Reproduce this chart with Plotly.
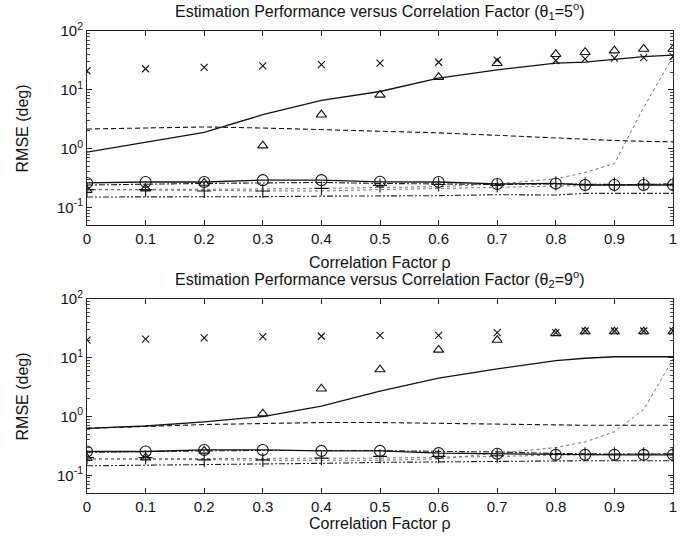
import plotly.graph_objects as go
import numpy as np

rho = [0, 0.1, 0.2, 0.3, 0.4, 0.5, 0.6, 0.7, 0.8, 0.85, 0.9, 0.95, 1.0]

# ---- top panel (theta1 = 5 deg)
t_x = [21, 22.8, 24, 25.6, 26.8, 28.3, 29.4, 32, 31.5, 33.5, 34.5, 35.2, 36.7]
t_tri = [0.196, 0.208, 0.26, 1.12, 3.77, 8.2, 16.4, 28.3, 40.3, 43.6, 46.4, 49.5, 49]
t_solid = [0.87, 1.3, 1.89, 3.77, 6.6, 9.35, 15.8, 21.8, 28.3, 29.5, 33, 36.7, 39]
t_dash = [2.15, 2.25, 2.33, 2.24, 2.1, 2.02, 1.85, 1.68, 1.51, 1.44, 1.37, 1.33, 1.3]
t_circ = [0.26, 0.27, 0.27, 0.29, 0.29, 0.272, 0.27, 0.25, 0.255, 0.24, 0.24, 0.24, 0.24]
t_dashdot = [0.24, 0.25, 0.255, 0.26, 0.265, 0.255, 0.25, 0.245, 0.25, 0.245, 0.245, 0.245, 0.25]
t_plus = [0.2, 0.2, 0.19, 0.19, 0.21, 0.236, 0.245, 0.236, 0.255, 0.245, 0.245, 0.25, 0.245]
t_dotA = [0.2, 0.2, 0.195, 0.19, 0.19, 0.2, 0.21, 0.22, 0.235, 0.24, 0.24, 0.245, 0.25]
t_dotB = [0.2, 0.2, 0.2, 0.205, 0.21, 0.215, 0.225, 0.25, 0.306, 0.39, 0.557, 5, 36.7]
t_dd = [0.15, 0.15, 0.15, 0.152, 0.155, 0.155, 0.158, 0.164, 0.162, 0.173, 0.173, 0.173, 0.173]

# ---- bottom panel (theta2 = 9 deg)
b_x = [20, 20.7, 21.7, 22.9, 23.2, 24.1, 24.1, 26.8, 26.8, 28.5, 28.5, 28.5, 28.5]
b_tri = [0.196, 0.2, 0.26, 1.12, 2.97, 6.3, 13.6, 20, 26, 27.9, 27.9, 27.9, 27.9]
b_solid = [0.63, 0.69, 0.81, 1.0, 1.5, 2.7, 4.5, 6.45, 8.9, 9.8, 10.4, 10.4, 10.4]
b_dash = [0.63, 0.68, 0.73, 0.76, 0.79, 0.79, 0.76, 0.74, 0.72, 0.71, 0.71, 0.71, 0.71]
b_circ = [0.254, 0.254, 0.27, 0.27, 0.26, 0.26, 0.238, 0.232, 0.223, 0.223, 0.223, 0.223, 0.223]
b_dashdot = [0.247, 0.25, 0.26, 0.265, 0.265, 0.264, 0.255, 0.25, 0.235, 0.23, 0.23, 0.23, 0.23]
b_plus = [0.2, 0.2, 0.183, 0.183, 0.196, 0.21, 0.21, 0.215, 0.228, 0.228, 0.228, 0.228, 0.228]
b_dotA = [0.19, 0.19, 0.19, 0.19, 0.195, 0.196, 0.2, 0.21, 0.22, 0.225, 0.228, 0.23, 0.235]
b_dotB = [0.19, 0.19, 0.185, 0.18, 0.18, 0.18, 0.19, 0.24, 0.296, 0.37, 0.55, 1.31, 9.5]
b_dd = [0.145, 0.148, 0.15, 0.155, 0.16, 0.166, 0.17, 0.174, 0.177, 0.177, 0.177, 0.177, 0.177]

titles = ["Estimation Performance versus Correlation Factor (θ<sub>1</sub>=5<sup>o</sup>)",
          "Estimation Performance versus Correlation Factor (θ<sub>2</sub>=9<sup>o</sup>)"]
xlabel = "Correlation Factor ρ"
ylabel = "RMSE (deg)"
xticks = [0, 0.1, 0.2, 0.3, 0.4, 0.5, 0.6, 0.7, 0.8, 0.9, 1]
xticktext = ["0", "0.1", "0.2", "0.3", "0.4", "0.5", "0.6", "0.7", "0.8", "0.9", "1"]
yticks = [0.1, 1, 10, 100]
yticktext = ["10<sup>-1</sup>", "10<sup>0</sup>", "10<sup>1</sup>", "10<sup>2</sup>"]
yminor = [m * 10.0 ** e for e in (-2, -1, 0, 1) for m in range(2, 10) if 0.05 <= m * 10.0 ** e < 100]

fig = go.Figure()
FONT = "Liberation Sans, Arial, sans-serif"

def add_panel(xa, ya, solid, dash, dotB, dotA, dd, dashdot, circ, plus, tri, xm):
    common = dict(x=rho, xaxis=xa, yaxis=ya, showlegend=False, hoverinfo="skip")
    fig.add_trace(go.Scatter(y=dotB, mode="lines", line=dict(color="#707070", width=1, dash="dot"), **common))
    fig.add_trace(go.Scatter(y=dotA, mode="lines", line=dict(color="#707070", width=1, dash="dot"), **common))
    fig.add_trace(go.Scatter(y=dd, mode="lines", line=dict(color="#222", width=1.1, dash="6px,2px,2px,2px,2px,2px"), **common))
    fig.add_trace(go.Scatter(y=dashdot, mode="lines", line=dict(color="#222", width=1.1, dash="6px,2px,2px,2px"), **common))
    fig.add_trace(go.Scatter(y=dash, mode="lines", line=dict(color="#111", width=1.1, dash="5px,3px"), **common))
    fig.add_trace(go.Scatter(y=solid, mode="lines", line=dict(color="#111", width=1.3), **common))
    fig.add_trace(go.Scatter(y=circ, mode="lines+markers", line=dict(color="#111", width=1.3),
                             marker=dict(symbol="circle-open", size=11, color="#111", line=dict(width=1.1)), **common))
    fig.add_trace(go.Scatter(y=plus, mode="markers",
                             marker=dict(symbol="cross-thin-open", size=10, color="#111", line=dict(width=1.1)), **common))
    fig.add_trace(go.Scatter(y=tri, mode="markers",
                             marker=dict(symbol="triangle-up-open", size=9, color="#111", line=dict(width=1.1)), **common))
    fig.add_trace(go.Scatter(y=xm, mode="markers",
                             marker=dict(symbol="x-thin-open", size=7, color="#111", line=dict(width=1.1)), **common))

add_panel("x", "y", t_solid, t_dash, t_dotB, t_dotA, t_dd, t_dashdot, t_circ, t_plus, t_tri, t_x)
add_panel("x2", "y2", b_solid, b_dash, b_dotB, b_dotA, b_dd, b_dashdot, b_circ, b_plus, b_tri, b_x)

xcommon = dict(range=[0, 1], tickvals=xticks, ticktext=xticktext, ticks="inside", ticklen=5,
               tickcolor="#222", showline=True, linecolor="#222", linewidth=1, mirror="ticks",
               showgrid=False, zeroline=False, tickfont=dict(family=FONT, size=15, color="#111"))
ycommon = dict(type="log", range=[np.log10(0.05), 2], tickvals=yticks, ticktext=yticktext,
               ticks="inside", ticklen=5, tickcolor="#222", showline=True, linecolor="#222",
               linewidth=1, mirror="ticks", showgrid=False, zeroline=False,
               tickfont=dict(family=FONT, size=15, color="#111"),
               minor=dict(tickvals=yminor, ticks="inside", ticklen=3, tickcolor="#444", showgrid=False))

fig.update_layout(
    width=686, height=540, paper_bgcolor="white", plot_bgcolor="white",
    margin=dict(l=87, r=9, t=31, b=47),
    xaxis=dict(domain=[0, 1], anchor="y", **xcommon),
    yaxis=dict(domain=[0.58, 1], anchor="x", **ycommon),
    xaxis2=dict(domain=[0, 1], anchor="y2", **xcommon),
    yaxis2=dict(domain=[0, 0.42], anchor="x2", **ycommon),
    font=dict(family=FONT, color="#111"),
)

ann = []
for yt, tt in ((11, titles[0]), (279, titles[1])):
    ann.append(dict(text=tt, x=382, y=540 - yt, xref="paper", yref="paper", showarrow=False))
for yl in (262, 523):
    ann.append(dict(text=xlabel, x=382, y=540 - yl, xref="paper", yref="paper", showarrow=False))
for yc in (128, 396):
    ann.append(dict(text=ylabel, x=22, y=540 - yc, xref="paper", yref="paper", showarrow=False, textangle=-90))

# convert pixel positions to paper coords
pw, ph = 686 - 87 - 9, 540 - 31 - 47
for a in ann:
    a["x"] = (a["x"] - 87) / pw
    a["y"] = (a["y"] - 47) / ph
    a["font"] = dict(family=FONT, size=16, color="#111")
    a["xanchor"] = "center"
    a["yanchor"] = "middle"
fig.update_layout(annotations=ann)

fig.write_html("out.html")
